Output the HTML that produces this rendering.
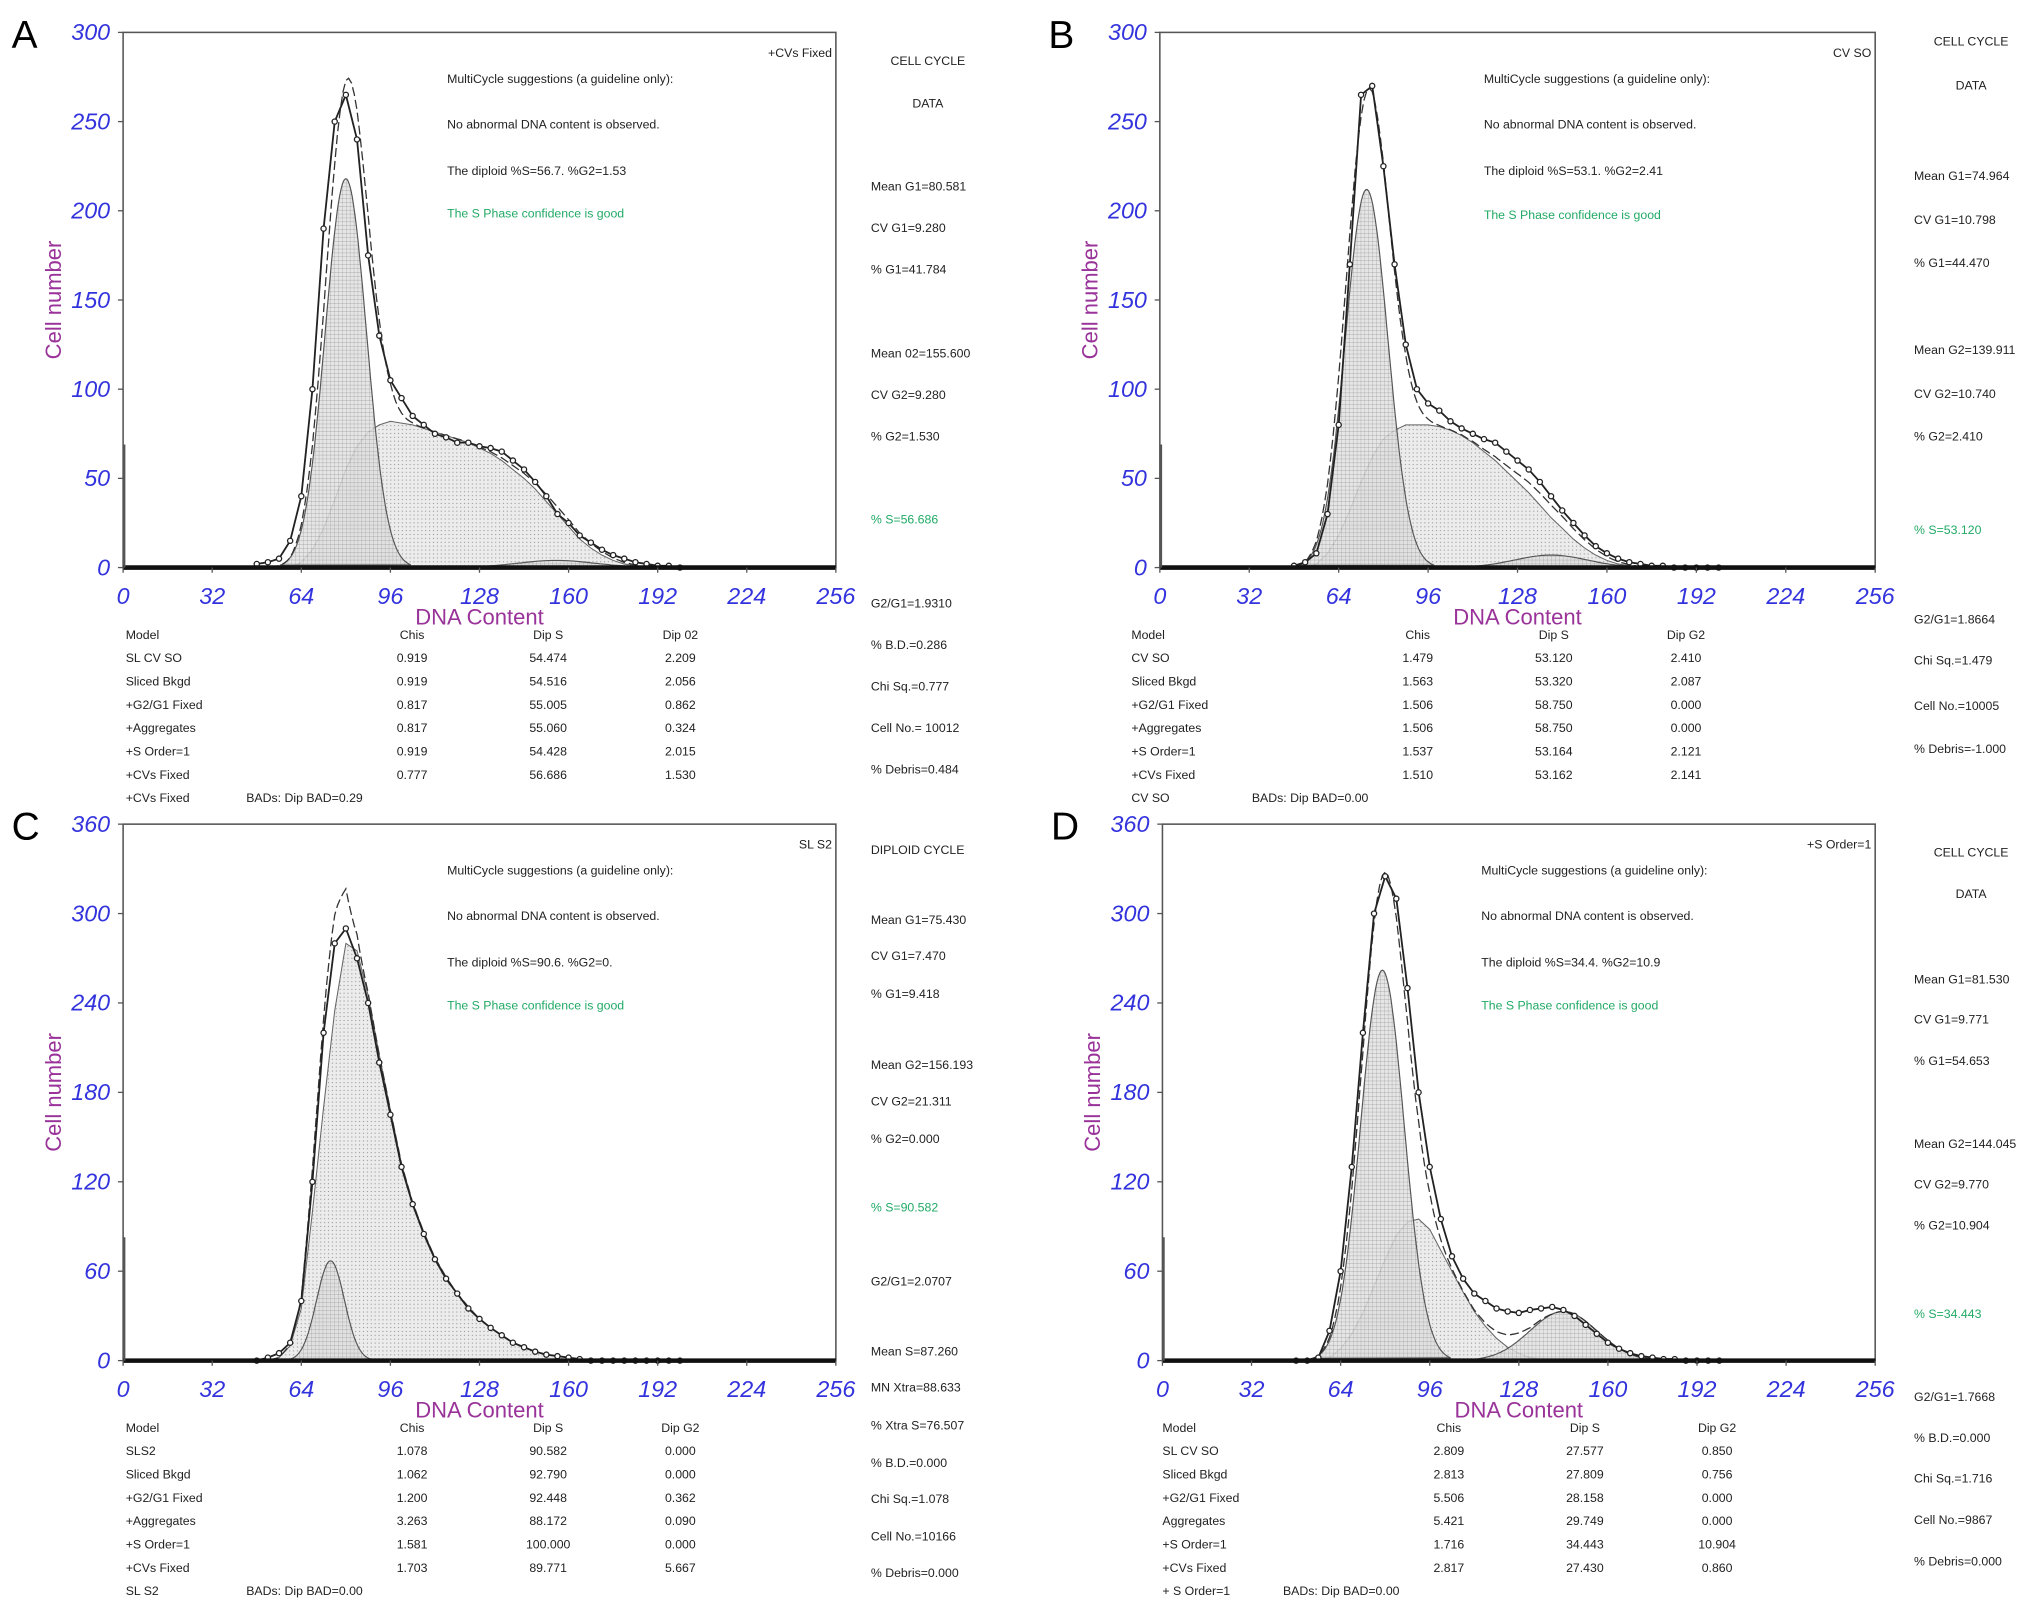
<!DOCTYPE html>
<html><head><meta charset="utf-8"><style>
html,body{margin:0;padding:0;background:#fff;}
svg{display:block;font-family:"Liberation Sans",sans-serif;}
</style></head><body>
<svg id="fig" width="2032" height="1612" viewBox="0 0 1568 1244" preserveAspectRatio="none" xmlns="http://www.w3.org/2000/svg">
<defs>
<pattern id="grid" width="3" height="3" patternUnits="userSpaceOnUse"><rect width="3" height="3" fill="#e2e2e2"/><path d="M0 0H3M0 0V3" stroke="#888" stroke-width="0.5"/></pattern>
<pattern id="dots" width="3" height="3" patternUnits="userSpaceOnUse"><rect width="3" height="3" fill="#ececec"/><circle cx="1.5" cy="1.5" r="0.5" fill="#999"/></pattern>
</defs>
</svg>
<script>
const channels=[48,52,56,60,64,68,72,76,80,84,88,92,96,100,104,108,112,116,120,124,128,132,136,140,144,148,152,156,160,164,168,172,176,180,184,188,192,196,200];
const xTicks=[0,32,64,96,128,160,192,224,256];
const dataA=[2,3,5,15,40,100,190,250,265,240,175,130,105,95,85,80,75,73,70,70,68,67,65,60,55,48,40,30,25,18,14,10,7,5,3,2,1,1,0];
const sPhaseA=[0,0,0,0,3,10,22,38,55,68,76,80,82,81,80,78,76,74,72,70,67,64,60,55,50,44,37,30,23,16,11,7,4,2,1,0,0,0,0];
const dataB=[1,3,8,30,80,170,265,270,225,170,125,100,92,88,82,78,75,72,70,65,60,55,48,40,32,25,18,12,8,5,3,2,1,1,0,0,0,0,0];
const sPhaseB=[0,0,2,8,18,32,48,62,72,77,80,80,80,79,77,74,70,65,60,54,48,42,35,28,22,16,11,7,4,2,1,0,0,0,0,0,0,0,0];
const dataC=[0,2,5,12,40,120,220,280,290,270,240,200,165,130,105,85,68,55,45,35,28,22,17,12,9,6,4,3,2,1,0,0,0,0,0,0,0,0,0];
const sPhaseC=[0,0,2,10,35,100,170,235,280,275,245,205,168,132,106,86,69,56,45,36,28,22,17,12,9,6,4,3,2,1,0,0,0,0,0,0,0,0,0];
const dataD=[0,0,2,20,60,130,220,300,325,310,250,180,130,95,70,55,45,40,35,33,32,34,35,36,34,30,24,18,12,8,5,3,2,1,1,0,0,0,0];
const sPhaseD=[0,0,0,2,8,18,32,50,68,84,93,95,88,74,60,46,33,23,15,9,5,2,1,0,0,0,0,0,0,0,0,0,0,0,0,0,0,0,0];
const g1A=[80,7.4,218], g2A=[155.6,14,4];
const g1B=[74,7.6,212], g2B=[140,13,7];
const g1C=[74.5,5,67], g2C=[156,20,0];
const g1D=[79,7.8,262], g2D=[144,12,33];
const yTicksAB=[0,50,100,150,200,250,300];
const yTicksCD=[0,60,120,180,240,300,360];

const NS="http://www.w3.org/2000/svg";
const svg=document.getElementById('fig');
function mk(tag,attrs,parent,text){const e=document.createElementNS(NS,tag);for(const k in attrs)e.setAttribute(k,attrs[k]);if(text!==undefined)e.textContent=text;(parent||svg).appendChild(e);return e;}
function txt(p,x,y,s,size,fill,anchor,name,extra){const t=mk('text',Object.assign({x:x,y:y,'font-size':size,fill:fill,'text-anchor':anchor||'start'},extra||{}),p,s);


return t;}
function gauss(c,p){const d=(c-p[0])/p[1];return p[2]*Math.exp(-0.5*d*d);}

const panels=[
 {id:'A',L:95,R:645,T:25,B:438,ymax:300,yt:yTicksAB,data:dataA,s:sPhaseA,g1:g1A,g2:g2A,tag:'+CVs Fixed',col:672,
  side:[['CELL CYCLE',47,'c'],['DATA',80,'c'],['Mean G1=80.581',144],['CV G1=9.280',176],['% G1=41.784',208],['Mean 02=155.600',273],['CV G2=9.280',305],['% G2=1.530',337],['% S=56.686',401,'g'],['G2/G1=1.9310',466],['% B.D.=0.286',498],['Chi Sq.=0.777',530],['Cell No.= 10012',562],['% Debris=0.484',594]],
  msg:['MultiCycle suggestions (a guideline only):','No abnormal DNA content is observed.','The diploid %S=56.7. %G2=1.53','The S Phase confidence is good'],msgX:345,msgY:[61,96,132,165],
  tx:97,hdr:['Model','Chis','Dip S','Dip 02'],rows:[['SL CV SO','0.919','54.474','2.209'],['Sliced Bkgd','0.919','54.516','2.056'],['+G2/G1 Fixed','0.817','55.005','0.862'],['+Aggregates','0.817','55.060','0.324'],['+S Order=1','0.919','54.428','2.015'],['+CVs Fixed','0.777','56.686','1.530']],
  last:['+CVs Fixed','BADs: Dip BAD=0.29'],tabY:490,step:18},
 {id:'B',L:895,R:1447,T:25,B:438,ymax:300,yt:yTicksAB,data:dataB,s:sPhaseB,g1:g1B,g2:g2B,tag:'CV SO',col:1477,
  side:[['CELL CYCLE',32,'c'],['DATA',66,'c'],['Mean G1=74.964',136],['CV G1=10.798',170],['% G1=44.470',203],['Mean G2=139.911',270],['CV G2=10.740',304],['% G2=2.410',337],['% S=53.120',409,'g'],['G2/G1=1.8664',478],['Chi Sq.=1.479',510],['Cell No.=10005',545],['% Debris=-1.000',578]],
  msg:['MultiCycle suggestions (a guideline only):','No abnormal DNA content is observed.','The diploid %S=53.1. %G2=2.41','The S Phase confidence is good'],msgX:1145,msgY:[61,96,132,166],
  tx:873,hdr:['Model','Chis','Dip S','Dip G2'],rows:[['CV SO','1.479','53.120','2.410'],['Sliced Bkgd','1.563','53.320','2.087'],['+G2/G1 Fixed','1.506','58.750','0.000'],['+Aggregates','1.506','58.750','0.000'],['+S Order=1','1.537','53.164','2.121'],['+CVs Fixed','1.510','53.162','2.141']],
  last:['CV SO','BADs: Dip BAD=0.00'],tabY:490,step:18},
 {id:'C',L:95,R:645,T:636,B:1050,ymax:360,yt:yTicksCD,data:dataC,s:sPhaseC,g1:g1C,g2:g2C,tag:'SL S2',col:672,
  side:[['DIPLOID CYCLE',656],['Mean G1=75.430',710],['CV G1=7.470',738],['% G1=9.418',767],['Mean G2=156.193',822],['CV G2=21.311',850],['% G2=0.000',879],['% S=90.582',932,'g'],['G2/G1=2.0707',989],['Mean S=87.260',1043],['MN Xtra=88.633',1071],['% Xtra S=76.507',1100],['% B.D.=0.000',1129],['Chi Sq.=1.078',1157],['Cell No.=10166',1186],['% Debris=0.000',1214]],
  msg:['MultiCycle suggestions (a guideline only):','No abnormal DNA content is observed.','The diploid %S=90.6. %G2=0.','The S Phase confidence is good'],msgX:345,msgY:[672,707,743,776],
  tx:97,hdr:['Model','Chis','Dip S','Dip G2'],rows:[['SLS2','1.078','90.582','0.000'],['Sliced Bkgd','1.062','92.790','0.000'],['+G2/G1 Fixed','1.200','92.448','0.362'],['+Aggregates','3.263','88.172','0.090'],['+S Order=1','1.581','100.000','0.000'],['+CVs Fixed','1.703','89.771','5.667']],
  last:['SL S2','BADs: Dip BAD=0.00'],tabY:1102,step:18},
 {id:'D',L:897,R:1447,T:636,B:1050,ymax:360,yt:yTicksCD,data:dataD,s:sPhaseD,g1:g1D,g2:g2D,tag:'+S Order=1',col:1477,
  side:[['CELL CYCLE',658,'c'],['DATA',690,'c'],['Mean G1=81.530',756],['CV G1=9.771',787],['% G1=54.653',819],['Mean G2=144.045',883],['CV G2=9.770',914],['% G2=10.904',946],['% S=34.443',1014,'g'],['G2/G1=1.7668',1078],['% B.D.=0.000',1110],['Chi Sq.=1.716',1141],['Cell No.=9867',1173],['% Debris=0.000',1205]],
  msg:['MultiCycle suggestions (a guideline only):','No abnormal DNA content is observed.','The diploid %S=34.4. %G2=10.9','The S Phase confidence is good'],msgX:1143,msgY:[672,707,743,776],
  tx:897,hdr:['Model','Chis','Dip S','Dip G2'],rows:[['SL CV SO','2.809','27.577','0.850'],['Sliced Bkgd','2.813','27.809','0.756'],['+G2/G1 Fixed','5.506','28.158','0.000'],['Aggregates','5.421','29.749','0.000'],['+S Order=1','1.716','34.443','10.904'],['+CVs Fixed','2.817','27.430','0.860']],
  last:['+ S Order=1','BADs: Dip BAD=0.00'],tabY:1102,step:18}
];

panels.forEach(P=>{
 const g=mk('g',{});
 
 
 const xs=c=>P.L+(c/256)*(P.R-P.L);
 const ys=v=>P.B-(v/P.ymax)*(P.B-P.T);
 txt(g,P.L-86,P.T+12,P.id,30,'#000','start','panel-label');
 const box=mk('rect',{x:P.L,y:P.T,width:P.R-P.L,height:P.B-P.T,fill:'#fff',stroke:'#555','stroke-width':1.2},g);
 
 
 let sp='M'+xs(channels[0])+','+ys(0);
 channels.forEach((c,i)=>{sp+=' L'+xs(c).toFixed(1)+','+ys(P.s[i]).toFixed(1);});
 sp+=' L'+xs(channels[channels.length-1])+','+ys(0)+'Z';
 const sArea=mk('path',{d:sp,fill:'url(#dots)',stroke:'#666','stroke-width':0.8},g);
 
 
 [[P.g1,'g1-peak-area'],[P.g2,'g2-peak-area']].forEach(([p,name])=>{
  if(p[2]<=0)return;
  let d='';for(let c=p[0]-3.2*p[1];c<=p[0]+3.2*p[1];c+=0.5){d+=(d?' L':'M')+xs(c).toFixed(1)+','+ys(gauss(c,p)).toFixed(1);}
  const a=mk('path',{d:d+'Z',fill:'url(#grid)','fill-opacity':0.85,stroke:'#555','stroke-width':0.9},g);
  
  
 });
 let fd='';
 for(let c=channels[0];c<=channels[channels.length-1];c+=1){
  const i=Math.min(channels.length-2,Math.floor((c-channels[0])/4));const t=(c-channels[i])/4;
  const s=P.s[i]*(1-t)+P.s[i+1]*t;
  const v=s+gauss(c,P.g1)+gauss(c,P.g2);
  fd+=(fd?' L':'M')+xs(c).toFixed(1)+','+ys(v).toFixed(1);
 }
 const fit=mk('path',{d:fd,fill:'none',stroke:'#333','stroke-width':1,'stroke-dasharray':'7,3'},g);
 
 
 const pts=channels.map((c,i)=>xs(c).toFixed(1)+','+ys(P.data[i]).toFixed(1)).join(' ');
 const dl=mk('polyline',{points:pts,fill:'none',stroke:'#222','stroke-width':1.4},g);
 
 
 channels.forEach((c,i)=>{
  const pt=mk('circle',{cx:xs(c),cy:ys(P.data[i]),r:2,fill:'#fff',stroke:'#222','stroke-width':1},g);
  
  
 });
 const bl=mk('line',{x1:P.L,y1:P.B,x2:P.R,y2:P.B,stroke:'#111','stroke-width':3.5},g);
 
 
 mk('line',{x1:P.L+1,y1:P.B,x2:P.L+1,y2:P.B-95*(P.B-P.T)/413,stroke:'#555','stroke-width':1.5},g);
 P.yt.forEach(v=>{
  txt(g,P.L-10,ys(v)+6,String(v),18,'#3333dd','end','y-tick-label',{'font-style':'italic'});
  mk('line',{x1:P.L-4,y1:ys(v),x2:P.L,y2:ys(v),stroke:'#555'},g);
 });
 xTicks.forEach(v=>{
  txt(g,xs(v),P.B+28,String(v),18,'#3333dd','middle','x-tick-label',{'font-style':'italic'});
  mk('line',{x1:xs(v),y1:P.B,x2:xs(v),y2:P.B+4,stroke:'#555'},g);
 });
 txt(g,(P.L+P.R)/2,P.B+44,'DNA Content',17,'#993399','middle','x-axis-title');
 txt(g,0,0,'Cell number',17,'#993399','middle','y-axis-title',{transform:'translate('+(P.L-48)+','+((P.T+P.B)/2)+') rotate(-90)'});
 txt(g,P.R-3,P.T+19,P.tag,9.5,'#222','end','model-tag');
 P.msg.forEach((m,i)=>txt(g,P.msgX,P.msgY[i]+3,m,9.5,i==3?'#22aa66':'#222','start','suggestion-text'));
 P.side.forEach(s=>{
  const c=s[2]=='c';
  txt(g,c?P.col+44:P.col,s[1]+3,s[0],9.5,s[2]=='g'?'#22aa66':'#222',c?'middle':'start','stats-text');
 });
 const colX=[P.tx,P.tx+221,P.tx+326,P.tx+428];
 P.hdr.forEach((h,i)=>txt(g,colX[i],P.tabY+3,h,9.5,'#222',i?'middle':'start','table-header'));
 P.rows.forEach((r,j)=>r.forEach((c,i)=>txt(g,colX[i],P.tabY+(j+1)*P.step+3,c,9.5,'#222',i?'middle':'start','table-cell')));
 txt(g,P.tx,P.tabY+7*P.step+3,P.last[0],9.5,'#222','start','table-cell');
 txt(g,P.tx+93,P.tabY+7*P.step+3,P.last[1],9.5,'#222','start','bads-text');
});
</script>
</body></html>
